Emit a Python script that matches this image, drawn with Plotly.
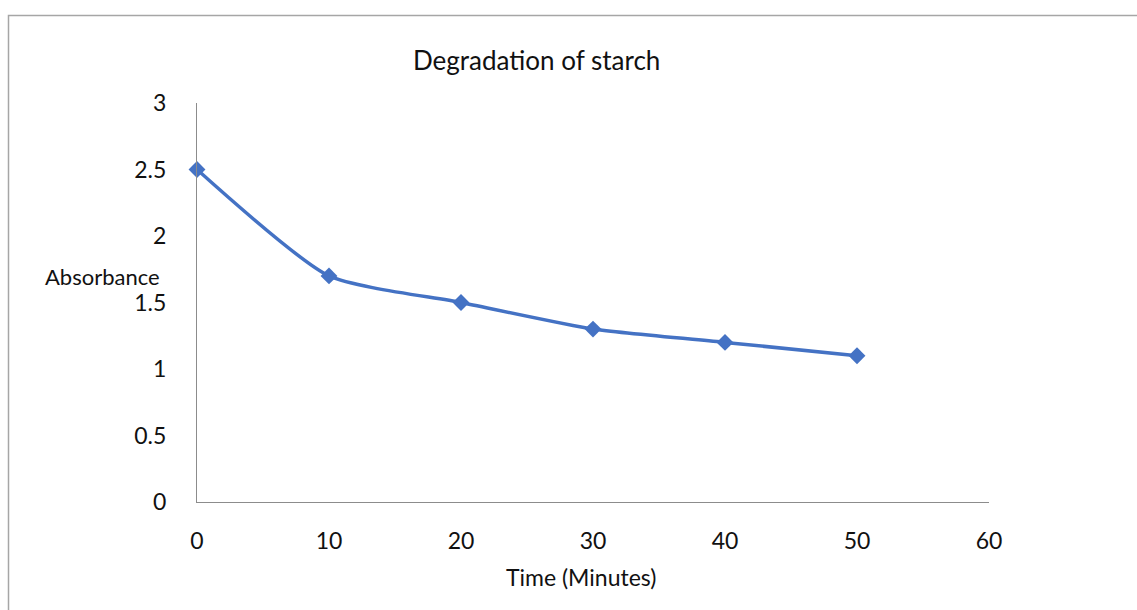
import plotly.graph_objects as go

# Starch degradation readings
time_min = [0, 10, 20, 30, 40, 50]
absorbance = [2.5, 1.7, 1.5, 1.3, 1.2, 1.1]
x_ticks = [0, 10, 20, 30, 40, 50, 60]
y_ticks = [0, 0.5, 1, 1.5, 2, 2.5, 3]

W, H = 1137, 610
L, R, T, B = 197, 148, 103, 108
pw, ph = W - L - R, H - T - B

def px_x(p):
    return (p - L) / pw

def px_y(p):
    return (H - B - p) / ph

FONT = "Lato"
BLUE = "#4472C4"
AXIS = "#8c8c8c"
TXT = "#111111"

fig = go.Figure()
fig.add_trace(go.Scatter(
    x=time_min, y=absorbance, mode="lines+markers",
    line=dict(color=BLUE, width=3.5, shape="spline", smoothing=0.6),
    marker=dict(symbol="diamond", size=13, color=BLUE),
    showlegend=False, cliponaxis=False,
))

fig.update_layout(
    width=W, height=H,
    margin=dict(l=L, r=R, t=T, b=B),
    paper_bgcolor="white", plot_bgcolor="white",
    font=dict(family=FONT, size=23, color=TXT),
    xaxis=dict(range=[0, 60], tickvals=x_ticks, ticktext=[str(v) for v in x_ticks],
               showgrid=False, zeroline=False, showline=True, linecolor=AXIS,
               linewidth=1, ticks="", ticklabelstandoff=18,
               tickfont=dict(family=FONT, size=23, color=TXT)),
    yaxis=dict(range=[0, 3], tickvals=y_ticks, ticktext=[str(v) for v in y_ticks],
               showgrid=False, zeroline=False, showline=True, linecolor=AXIS,
               linewidth=1, ticks="", ticklabelstandoff=25,
               tickfont=dict(family=FONT, size=23, color=TXT)),
    shapes=[dict(type="rect", xref="paper", yref="paper",
                 x0=px_x(8.5), x1=px_x(1145), y0=px_y(625), y1=px_y(15.5),
                 line=dict(color="#a6a6a6", width=1.5), layer="below")],
    annotations=[
        dict(text="Degradation of starch", xref="paper", yref="paper",
             x=px_x(536), y=px_y(60), xanchor="center", yanchor="middle",
             showarrow=False, font=dict(family=FONT, size=26, color=TXT)),
        dict(text="Absorbance", xref="paper", yref="paper",
             x=px_x(162), y=px_y(276), xanchor="right", yanchor="middle",
             showarrow=False, font=dict(family=FONT, size=22, color=TXT)),
        dict(text="Time (Minutes)", xref="paper", yref="paper",
             x=px_x(581), y=px_y(577), xanchor="center", yanchor="middle",
             showarrow=False, font=dict(family=FONT, size=23, color=TXT)),
    ],
)

fig.write_html("out.html")
